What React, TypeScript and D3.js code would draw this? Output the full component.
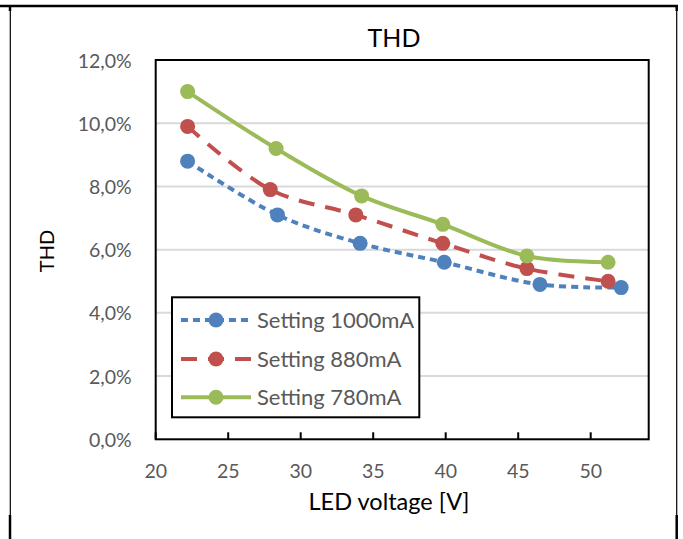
import React from "react";
import * as d3 from "d3";

const seriesNames = ["Setting 1000mA", "Setting 880mA", "Setting 780mA"];
const colors = ["#4F81BD", "#C0504D", "#9BBB59"];
const dashes = ["7,5", "16,11", ""];

const x1000 = [22.2, 28.4, 34.1, 39.9, 46.5, 52.1];
const y1000 = [8.8, 7.1, 6.2, 5.6, 4.9, 4.8];
const x880 = [22.2, 27.9, 33.8, 39.8, 45.6, 51.2];
const y880 = [9.9, 7.9, 7.1, 6.2, 5.4, 5.0];
const x780 = [22.2, 28.3, 34.2, 39.8, 45.6, 51.2];
const y780 = [11.0, 9.2, 7.7, 6.8, 5.8, 5.6];

const xTicks = [20, 25, 30, 35, 40, 45, 50];
const yTicks = [0, 2, 4, 6, 8, 10, 12];

const FONT = "Lato, 'Open Sans', sans-serif";

export default function App() {
  const W = 683, H = 539;
  const left = 155.7, right = 648.7, top = 60, bottom = 439.3;
  const xs = d3.scaleLinear().domain([20, 54]).range([left, right]);
  const ys = d3.scaleLinear().domain([0, 12]).range([bottom, top]);
  const data = [
    x1000.map((x, i) => [x, y1000[i]]),
    x880.map((x, i) => [x, y880[i]]),
    x780.map((x, i) => [x, y780[i]]),
  ];
  const line = d3
    .line<number[]>()
    .x((d) => xs(d[0]))
    .y((d) => ys(d[1]))
    .curve(d3.curveCatmullRom.alpha(0.5));

  const legX = 172, legY = 297.3, legW = 247.3, legH = 120;
  const rowY = [320, 359, 397.3];

  return (
    <svg width={W} height={H} style={{ position: "absolute", left: 0, top: 0 }}>
      <rect x={0} y={0} width={W} height={H} fill="#fff" />
      {/* outer border lines */}
      <line x1={0} x2={678} y1={6} y2={6} stroke="#000" strokeWidth={2.5} />
      <line x1={10.3} x2={10.3} y1={6} y2={H} stroke="#000" strokeWidth={1.2} />
      <line x1={10} x2={10} y1={6} y2={11} stroke="#000" strokeWidth={2.5} />
      <line x1={10} x2={10} y1={515} y2={H} stroke="#000" strokeWidth={2.5} />
      <line x1={676.7} x2={676.7} y1={6} y2={H} stroke="#000" strokeWidth={1.2} />
      <line x1={676.7} x2={676.7} y1={6} y2={11} stroke="#000" strokeWidth={2.5} />
      <line x1={676.7} x2={676.7} y1={515} y2={H} stroke="#000" strokeWidth={2.5} />

      {/* gridlines */}
      {yTicks
        .filter((t) => t > 0 && t < 12)
        .map((t) => (
          <line key={t} x1={left} x2={right} y1={ys(t)} y2={ys(t)} stroke="#D9D9D9" strokeWidth={2} />
        ))}
      {/* plot frame */}
      <rect x={left} y={top} width={right - left} height={bottom - top} fill="none" stroke="#000" strokeWidth={2} />
      {/* x ticks */}
      {xTicks.map((t) => (
        <line key={t} x1={xs(t)} x2={xs(t)} y1={bottom} y2={bottom - 7} stroke="#000" strokeWidth={2} />
      ))}
      {/* tick labels */}
      {xTicks.map((t) => (
        <text key={t} x={xs(t)} y={478} textAnchor="middle" fontFamily={FONT} fontSize={19.5} fill="#595959">
          {t}
        </text>
      ))}
      {yTicks.map((t) => (
        <text key={t} x={131.7} y={ys(t) + 7.5} textAnchor="end" fontFamily={FONT} fontSize={19.5} fill="#595959">
          {t.toFixed(1).replace(".", ",") + "%"}
        </text>
      ))}

      {/* series */}
      {data.map((d, i) => (
        <g key={i}>
          <path d={line(d) || ""} fill="none" stroke={colors[i]} strokeWidth={4} strokeDasharray={dashes[i]} />
          {d.map((p, j) => (
            <circle key={j} cx={xs(p[0])} cy={ys(p[1])} r={7.5} fill={colors[i]} />
          ))}
        </g>
      ))}

      {/* legend */}
      <rect x={legX} y={legY} width={legW} height={legH} fill="#fff" stroke="#000" strokeWidth={2} />
      {seriesNames.map((n, i) => (
        <g key={n}>
          <line x1={181} x2={251} y1={rowY[i]} y2={rowY[i]} stroke={colors[i]} strokeWidth={4} strokeDasharray={dashes[i]} />
          <circle cx={216} cy={rowY[i]} r={7.5} fill={colors[i]} />
          <text x={257} y={rowY[i] + 8} fontFamily={FONT} fontSize={22} fill="#595959">
            {n}
          </text>
        </g>
      ))}

      {/* titles */}
      <text x={394} y={47} textAnchor="middle" fontFamily={FONT} fontSize={25} fill="#000">
        THD
      </text>
      <text x={389} y={510} textAnchor="middle" fontFamily={FONT} fontSize={23.5} fill="#000">
        LED voltage [V]
      </text>
      <text transform={`translate(54,251) rotate(-90)`} textAnchor="middle" fontFamily={FONT} fontSize={20} fill="#000">
        THD
      </text>
    </svg>
  );
}
